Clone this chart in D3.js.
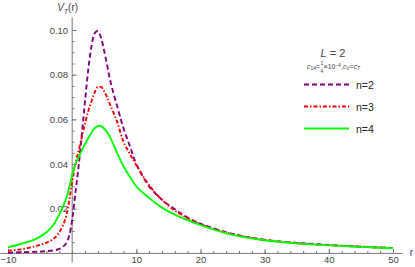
<!DOCTYPE html>
<html>
<head>
<meta charset="utf-8">
<script src="https://cdn.jsdelivr.net/npm/d3@7"></script>
<style>
  body { margin: 0; background: #fff; }
  text { font-family: "Liberation Sans", Arial, sans-serif; fill: #444; }
  .axis path { display: none; }
  .axis line { stroke: #777; }
</style>
</head>
<body>
<div id="chart"></div>
<script>
const width = 415
const height = 267

// r values and V_T(r)
const rValues = [-10, -8, -6, -5, -4, -3, -2, -1, -0.5, 0, 0.5, 1, 1.5, 2, 2.5, 3, 3.5, 4, 4.5, 5, 5.5, 6, 7, 8, 9, 10, 12, 14, 16, 18, 20, 25, 30, 35, 40, 45, 50]
const n2 = [0.0003, 0.0005, 0.0007, 0.0008, 0.001, 0.0013, 0.002, 0.0042, 0.0075, 0.015, 0.027, 0.039, 0.053, 0.068, 0.082, 0.0925, 0.0985, 0.0995, 0.0965, 0.0905, 0.0835, 0.0765, 0.066, 0.056, 0.048, 0.040, 0.030, 0.024, 0.0198, 0.016, 0.0133, 0.0087, 0.0061, 0.0047, 0.0038, 0.003, 0.0024]
const n3 = [0.0012, 0.0018, 0.003, 0.0038, 0.0048, 0.0063, 0.0095, 0.016, 0.023, 0.032, 0.040, 0.046, 0.052, 0.058, 0.0635, 0.068, 0.072, 0.0745, 0.0745, 0.0725, 0.0695, 0.066, 0.059, 0.050, 0.0445, 0.0395, 0.0305, 0.024, 0.0192, 0.0157, 0.013, 0.0086, 0.006, 0.0046, 0.0037, 0.003, 0.0024]
const n4 = [0.0027, 0.0042, 0.006, 0.0075, 0.0095, 0.0125, 0.0175, 0.024, 0.029, 0.035, 0.040, 0.043, 0.046, 0.049, 0.0515, 0.054, 0.056, 0.057, 0.057, 0.0558, 0.054, 0.0515, 0.045, 0.039, 0.0343, 0.030, 0.0248, 0.0205, 0.0174, 0.0149, 0.0127, 0.0083, 0.0059, 0.0045, 0.0036, 0.0029, 0.0023]

const seriesNames = ["n=2", "n=3", "n=4"]
const seriesColors = ["#800080", "#ff0000", "#00ff00"]
const seriesDash = ["5,3", "4,2,1.5,2", null]

const xTicks = [-10, 10, 20, 30, 40, 50]
const yTicks = [0.02, 0.04, 0.06, 0.08, 0.10]

const svg = d3.select("#chart").append("svg").attr("width", width).attr("height", height)

let x = d3.scaleLinear().domain([-10, 50]).range([8, 393])
let y = d3.scaleLinear().domain([0, 0.1]).range([253.4, 30])

// axes, ticks point inward like Mathematica
const xAxisGroup = svg.append("g").attr("class", "axis").attr("transform", `translate(0, ${y(0)})`)
xAxisGroup.call(d3.axisBottom(x).tickValues(d3.range(-10, 51, 2)).tickSize(-2.5).tickFormat(""))
xAxisGroup.append("g").call(d3.axisBottom(x).tickValues(xTicks).tickSize(-4.5).tickPadding(3).tickFormat(d => d < 0 ? "\u2212" + (-d) : d))
xAxisGroup.selectAll("text").attr("font-size", 9.5).style("fill", "#444")

const yAxisGroup = svg.append("g").attr("class", "axis").attr("transform", `translate(${x(0)}, 0)`)
yAxisGroup.call(d3.axisLeft(y).tickValues(d3.range(0.005, 0.1001, 0.005)).tickSize(-2.5).tickFormat(""))
yAxisGroup.append("g").call(d3.axisLeft(y).tickValues(yTicks).tickSize(-4.5).tickPadding(4).tickFormat(d3.format(".2f")))
yAxisGroup.selectAll("text").attr("font-size", 9.5).style("fill", "#444")

svg.append("line").attr("x1", x(-11.2)).attr("x2", x(51.5)).attr("y1", y(0)).attr("y2", y(0)).attr("stroke", "#777")
svg.append("line").attr("x1", x(0)).attr("x2", x(0)).attr("y1", y(-0.004)).attr("y2", y(0.1056)).attr("stroke", "#777")

// axis labels
const yLab = svg.append("text").attr("x", x(0) - 15).attr("y", 11).attr("font-size", 10)
yLab.append("tspan").attr("font-style", "italic").text("V")
yLab.append("tspan").attr("font-style", "italic").attr("font-size", 7).attr("dy", 2.5).text("T")
yLab.append("tspan").attr("dy", -2.5).text("(r)")
svg.append("text").attr("x", x(51.5) + 7).attr("y", y(0) + 3).attr("font-size", 10).text("r")

// curves
const line = d3.line().x(d => x(d[0])).y(d => y(d[1])).curve(d3.curveCatmullRom.alpha(0.5))
const allSeries = [n2, n3, n4]
allSeries.forEach((vals, i) => {
    svg.append("path")
        .datum(rValues.map((r, j) => [r, vals[j]]))
        .attr("d", line)
        .attr("fill", "none")
        .attr("stroke", seriesColors[i])
        .attr("stroke-width", 1.9)
        .attr("stroke-dasharray", seriesDash[i])
})

// legend
const legend = svg.append("g")
legend.append("text").attr("x", 333).attr("y", 57).attr("font-size", 11).attr("text-anchor", "middle")
    .call(t => {
        t.append("tspan").attr("font-style", "italic").text("L")
        t.append("tspan").text(" = 2")
    })
const sub = legend.append("text").attr("x", 307).attr("y", 69).attr("font-size", 6.8)
sub.append("tspan").attr("font-style", "italic").text("c")
sub.append("tspan").attr("font-size", 5).attr("dy", 1).text("14")
sub.append("tspan").attr("dy", -1).text("=")
sub.append("tspan").attr("font-size", 5).attr("dy", -4).attr("dx", 0.5).text("1")
sub.append("tspan").attr("font-size", 5).attr("dy", 8).attr("dx", -2.8).text("4")
sub.append("tspan").attr("dy", -4).attr("dx", 0.6).text("\u00d710")
sub.append("tspan").attr("font-size", 5).attr("dy", -2.5).text("\u22124")
sub.append("tspan").attr("dy", 2.5).text(",")
sub.append("tspan").attr("font-style", "italic").text("c")
sub.append("tspan").attr("font-size", 5).attr("font-style", "italic").attr("dy", 1).text("V")
sub.append("tspan").attr("dy", -1).text("=")
sub.append("tspan").attr("font-style", "italic").text("c")
sub.append("tspan").attr("font-size", 5).attr("font-style", "italic").attr("dy", 1).text("T")
// fraction bar
legend.append("line").attr("x1", 324).attr("x2", 327.5).attr("y1", 67).attr("y2", 67).attr("stroke", "#666").attr("stroke-width", 0.4)

seriesNames.forEach((name, i) => {
    const ly = 84.5 + i * 22
    legend.append("line").attr("x1", 304).attr("x2", 349).attr("y1", ly).attr("y2", ly)
        .attr("stroke", seriesColors[i]).attr("stroke-width", 1.9).attr("stroke-dasharray", seriesDash[i])
    legend.append("text").attr("x", 356).attr("y", ly + 4).attr("font-size", 10.5).style("fill", "#222").text(name)
})
</script>
</body>
</html>
